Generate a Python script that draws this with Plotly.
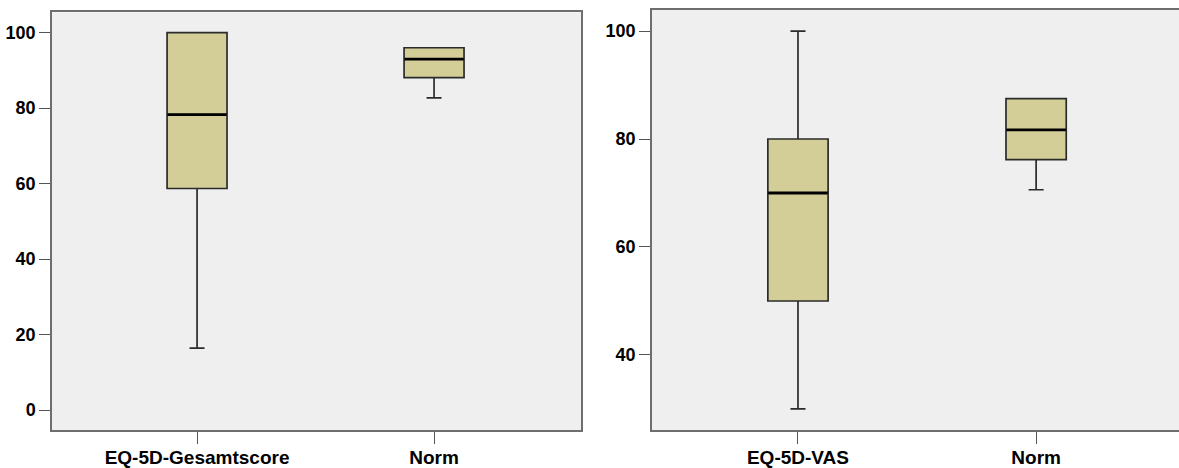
import plotly.graph_objects as go

# ---- data ----
left_categories = ["EQ-5D-Gesamtscore", "Norm"]
left_lower = [16.4, 82.7]
left_q1 = [58.7, 88.1]
left_median = [78.3, 93.0]
left_q3 = [100.0, 96.0]
left_upper = [100.0, 96.0]

right_categories = ["EQ-5D-VAS", "Norm"]
right_lower = [30.0, 70.6]
right_q1 = [50.0, 76.2]
right_median = [70.0, 81.7]
right_q3 = [80.0, 87.5]
right_upper = [100.0, 87.5]

left_yticks = [0, 20, 40, 60, 80, 100]
right_yticks = [40, 60, 80, 100]

BOX_FILL = "#D3CE97"
BG = "#EFEFEF"
FRAME = "#6E6E6E"
BOXW = 0.253
FONT = "Liberation Sans, Arial, sans-serif"

fig = go.Figure()


def add_panel(cats, lo, q1, med, q3, hi, xa, ya):
    fig.add_trace(go.Box(
        x=cats, lowerfence=lo, q1=q1, median=med, q3=q3, upperfence=hi,
        fillcolor=BOX_FILL, line=dict(color="#2b2b2b", width=1.7),
        width=BOXW, whiskerwidth=0.25, boxpoints=False,
        xaxis=xa, yaxis=ya, showlegend=False, hoverinfo="skip"))
    # thick median line as a degenerate box
    fig.add_trace(go.Box(
        x=cats, lowerfence=med, q1=med, median=med, q3=med, upperfence=med,
        fillcolor="rgba(0,0,0,0)", line=dict(color="black", width=2.8),
        width=BOXW * 0.985, whiskerwidth=0, boxpoints=False,
        xaxis=xa, yaxis=ya, showlegend=False, hoverinfo="skip"))


add_panel(left_categories, left_lower, left_q1, left_median, left_q3, left_upper, "x", "y")
add_panel(right_categories, right_lower, right_q1, right_median, right_q3, right_upper, "x2", "y2")

xcommon = dict(showgrid=False, zeroline=False, showline=True, linecolor=FRAME,
               linewidth=1.5, ticks="outside", ticklen=12, tickwidth=1.3,
               tickcolor="#555555", type="category", automargin=False,
               ticklabelstandoff=-3,
               tickfont=dict(family=FONT, size=19, color="black", weight="bold"))
ycommon = dict(showgrid=False, zeroline=False, showline=True, linecolor=FRAME,
               linewidth=1.5, ticks="outside", ticklen=11, tickwidth=1.3,
               tickcolor="#555555", automargin=False,
               tickfont=dict(family=FONT, size=18, color="black", weight="bold"))

fig.update_layout(
    width=1179, height=468,
    margin=dict(l=0, r=0, t=0, b=0, autoexpand=False),
    paper_bgcolor="white", plot_bgcolor=BG,
    boxmode="overlay",
    xaxis=dict(**xcommon, domain=[52 / 1179, 581 / 1179], range=[-0.612, 1.62],
               mirror=True, anchor="y"),
    yaxis=dict(**ycommon, domain=[1 - 430 / 468, 1 - 12.3 / 468], range=[-5.3, 105.4],
               tickvals=left_yticks, mirror=True, anchor="x"),
    xaxis2=dict(**xcommon, domain=[652 / 1179, 1.0], range=[-0.613, 1.60],
                mirror=True, anchor="y2"),
    yaxis2=dict(**ycommon, domain=[1 - 430 / 468, 1 - 10 / 468], range=[26.1, 103.9],
                tickvals=right_yticks, mirror=False, anchor="x2"),
)

fig.write_html("out.html", config={"displayModeBar": False},
               post_script="document.body.style.margin='0';document.body.style.overflow='hidden';")
